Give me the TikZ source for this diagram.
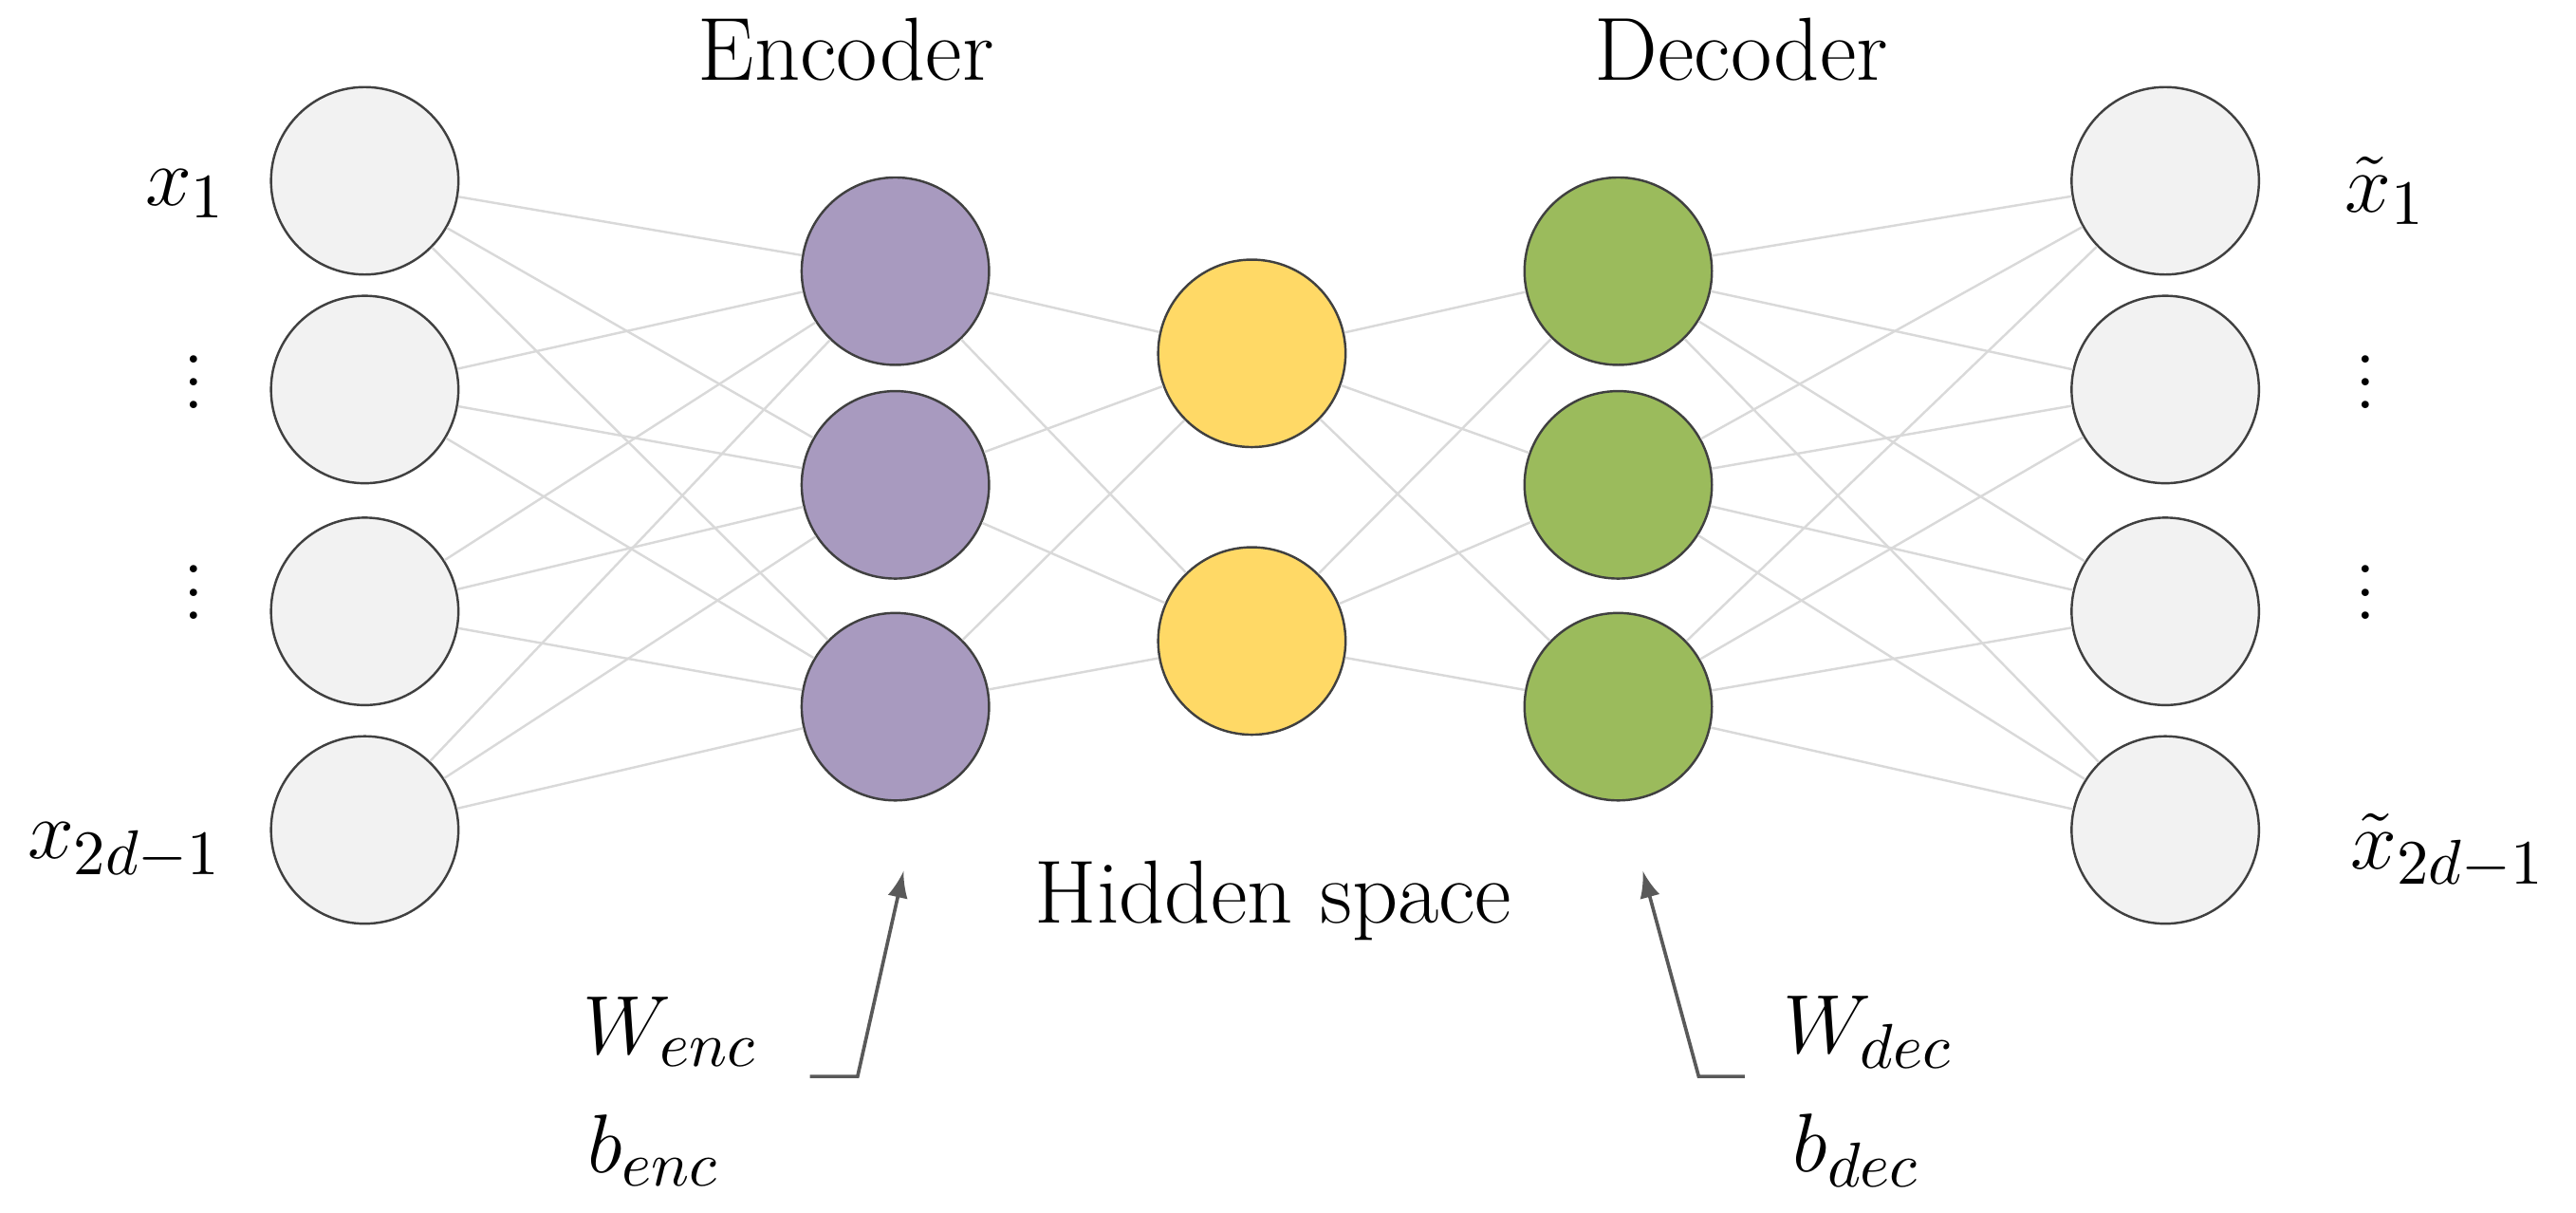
\documentclass[tikz,border=0pt]{standalone}
\begin{document}
\begin{tikzpicture}[x=0.01cm,y=-0.01cm,
  neu/.style={circle,draw=black!75,line width=0.4pt,minimum size=1.14cm,inner sep=0pt},
  inp/.style={neu,fill=gray!10},
  enc/.style={neu,fill={rgb,255:red,168;green,154;blue,191}},
  hid/.style={neu,fill={rgb,255:red,255;green,217;blue,102}},
  dec/.style={neu,fill={rgb,255:red,155;green,187;blue,92}},
  edge/.style={draw=gray!30,line width=0.4pt},
  lab/.style={font=\fontsize{15.5}{17}\selectfont,inner sep=1pt},
  arr/.style={draw=black!65,line width=0.6pt,-latex}]
\useasboundingbox (0,0) rectangle (1568,738);
\foreach \i/\y in {1/110,2/237,3/372,4/505}{
  \node[inp] (i\i) at (222,\y) {};
  \node[inp] (o\i) at (1318,\y) {};}
\foreach \i/\y in {1/165,2/295,3/430}{
  \node[enc] (e\i) at (545,\y) {};
  \node[dec] (d\i) at (985,\y) {};}
\foreach \i/\y in {1/215,2/390}{\node[hid] (h\i) at (762,\y) {};}
\foreach \a in {1,...,4}{\foreach \b in {1,2,3}{
  \draw[edge] (i\a) -- (e\b); \draw[edge] (d\b) -- (o\a);}}
\foreach \a in {1,2,3}{\foreach \b in {1,2}{
  \draw[edge] (e\a) -- (h\b); \draw[edge] (h\b) -- (d\a);}}
\node[lab] (xa) at (113,118) {$x_1$};
\node[lab] (xb) at (118,222) {$\vdots$};
\node[lab] (xc) at (118,350) {$\vdots$};
\node[lab] (xd) at (76,518) {$x_{2d-1}$};
\node[lab] (ya) at (1452,116) {$\tilde{x}_1$};
\node[lab] (yb) at (1440,222) {$\vdots$};
\node[lab] (yc) at (1440,350) {$\vdots$};
\node[lab] (yd) at (1490,518) {$\tilde{x}_{2d-1}$};
\node[lab] (tenc) at (515,30) {Encoder};
\node[lab] (tdec) at (1060,30) {Decoder};
\node[lab] (thid) at (775,548) {Hidden space};
\node[lab] (wenc) at (408,628) {$W_{enc}$};
\node[lab] (benc) at (398,700) {$b_{enc}$};
\node[lab] (wdec) at (1137,628) {$W_{dec}$};
\node[lab] (bdec) at (1130,700) {$b_{dec}$};
\coordinate (ea) at (493,655); \coordinate (eb) at (522,655);
\coordinate (da) at (1062,655); \coordinate (db) at (1034,655);
\draw[arr] (ea) -- (eb) -- (550,530);
\draw[arr] (da) -- (db) -- (1000,530);
\end{tikzpicture}
\end{document}
